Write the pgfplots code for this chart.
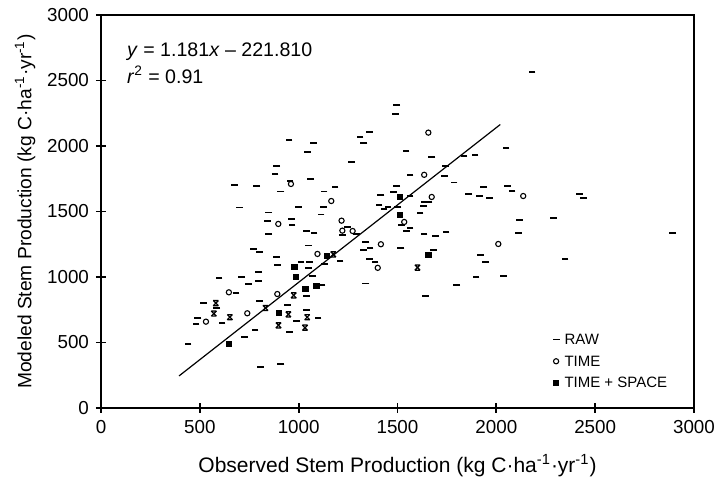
\documentclass[border=0pt]{standalone}
\usepackage{fontspec}
\setmainfont{Liberation Sans}
\usepackage{pgfplots}
\usepackage{pgfplotstable}
\pgfplotsset{compat=1.18}

\pgfdeclareplotmark{xbar}{%
  \pgfpathmoveto{\pgfqpoint{-\pgfplotmarksize}{\pgfplotmarksize}}%
  \pgfpathlineto{\pgfqpoint{\pgfplotmarksize}{-\pgfplotmarksize}}%
  \pgfpathmoveto{\pgfqpoint{-\pgfplotmarksize}{-\pgfplotmarksize}}%
  \pgfpathlineto{\pgfqpoint{\pgfplotmarksize}{\pgfplotmarksize}}%
  \pgfpathmoveto{\pgfqpoint{-\pgfplotmarksize}{\pgfplotmarksize}}%
  \pgfpathlineto{\pgfqpoint{\pgfplotmarksize}{\pgfplotmarksize}}%
  \pgfpathmoveto{\pgfqpoint{-\pgfplotmarksize}{-\pgfplotmarksize}}%
  \pgfpathlineto{\pgfqpoint{\pgfplotmarksize}{-\pgfplotmarksize}}%
  \pgfusepathqstroke
}

\pgfplotstableread{
x y
2180 2565
1496 2313
1489 2247
1357 2105
1310 2071
1330 2025
951 2044
1074 2020
2049 1985
1543 1962
1044 1957
1266 1880
1674 1919
1836 1924
1892 1931
889 1846
1741 1845
880 1785
1563 1779
1738 1773
1061 1748
956 1735
1786 1722
674 1703
788 1694
1184 1686
1936 1687
2057 1692
2079 1659
910 1652
1128 1652
1496 1697
1479 1646
1416 1623
1563 1616
1860 1635
1913 1618
1964 1601
2420 1631
2441 1606
700 1530
848 1492
998 1535
1125 1537
1406 1550
1432 1521
1452 1537
1502 1537
1634 1573
1659 1573
1630 1542
1113 1477
1614 1486
2288 1448
2116 1435
841 1430
962 1440
966 1397
1521 1394
1563 1372
1546 1354
1246 1384
1221 1321
1293 1328
1634 1326
1693 1315
1745 1344
2111 1338
2892 1333
848 1330
1038 1349
1078 1333
1340 1270
1361 1224
1327 1206
1517 1224
1681 1204
1049 1240
770 1213
802 1193
1357 1137
1386 1117
1920 1168
1946 1117
2347 1135
1209 1122
1131 1099
887 1150
892 1089
1012 1117
1054 1117
1049 1066
1897 998
2035 1005
798 1037
796 972
746 945
712 1000
597 993
1071 1008
1118 940
1340 950
1799 940
683 876
1040 857
1642 854
518 802
585 761
801 814
942 786
1040 748
490 690
481 643
612 649
990 667
1098 686
952 580
779 598
724 540
440 490
806 315
910 336
}\rawdata

\pgfplotstableread{
x y
1656 2102
961 1710
1635 1780
1165 1580
2136 1618
1673 1611
897 1405
1217 1430
1221 1354
1273 1351
1534 1420
1416 1250
2010 1252
1400 1070
1095 1176
647 883
892 870
531 659
740 723
}\timedata

\pgfplotstableread{
x y
1512 1613
1512 1476
1656 1170
1143 1162
978 1077
986 1000
1034 908
1090 935
901 725
648 492
}\tsdata

\pgfplotstableread{
x y
581 800
571 721
652 693
832 763
975 860
948 715
1043 693
898 631
1032 613
1601 1072
1175 1173
}\xdata

\begin{document}
\begin{tikzpicture}
\begin{axis}[
  scale only axis, width=296.5pt, height=196.5pt,
  xmin=0, xmax=3000, ymin=0, ymax=3000,
  xtick={0,500,...,3000}, ytick={0,500,...,3000},
  tick align=center, major tick length=5pt,
  tick pos=left,
  axis line style={line width=1.1pt},
  every tick/.style={black, line width=0.9pt},
  tick label style={font=\fontsize{9.4}{10}\selectfont},
  /pgf/number format/assume math mode=true,
  /pgf/number format/1000 sep={},
  xlabel={Observed Stem Production (kg C·ha\textsuperscript{-1}·yr\textsuperscript{-1})},
  ylabel={Modeled Stem Production (kg C·ha\textsuperscript{-1}·yr\textsuperscript{-1})},
  xlabel style={font=\fontsize{10.5}{12}\selectfont, at={(axis description cs:0.5,-0.1476)}, anchor=center},
  ylabel style={font=\fontsize{9.6}{11}\selectfont, at={(axis description cs:-0.128,0.5)}, anchor=center},
  legend style={at={(rel axis cs:0.757,0.198)}, anchor=north west, draw=none, fill=none,
    font=\fontsize{7.5}{8}\selectfont, row sep=1.85pt, inner sep=0pt,
    nodes={inner sep=1pt, text height=6pt, text depth=1pt}},
  legend cell align=left,
  legend image code/.code={\draw[#1] plot coordinates {(0pt,0pt)}; \path (-2.7pt,0pt) (3pt,0pt);},
]
\addplot[black, line width=0.6pt, forget plot] coordinates {(395,245) (2020,2164)};
\addplot[only marks, mark=-, mark size=1.7pt, mark options={line width=0.9pt, black}] table {\rawdata};
\addlegendentry{RAW}
\addplot[only marks, mark=o, mark size=1.3pt, mark options={line width=0.55pt, black, fill=white}] table {\timedata};
\addlegendentry{TIME}
\addplot[only marks, mark=square*, mark size=1.3pt, mark options={black, fill=black}] table {\tsdata};
\addlegendentry{TIME + SPACE}
\addplot[only marks, mark=xbar, mark size=1.3pt, mark options={line width=0.6pt, black}, forget plot] table {\xdata};
\node[anchor=base west, font=\fontsize{9.8}{11}\selectfont, inner sep=0pt] at (axis cs:130,2680) {\textit{y} = 1.181\textit{x} – 221.810};
\node[anchor=base west, font=\fontsize{9.8}{11}\selectfont, inner sep=0pt] at (axis cs:130,2480) {\textit{r}\textsuperscript{2} = 0.91};
\end{axis}
\pgfresetboundingbox
\path[use as bounding box] (-50.5pt,-38.5pt) rectangle (310.5pt,204pt);
\end{tikzpicture}
\end{document}
